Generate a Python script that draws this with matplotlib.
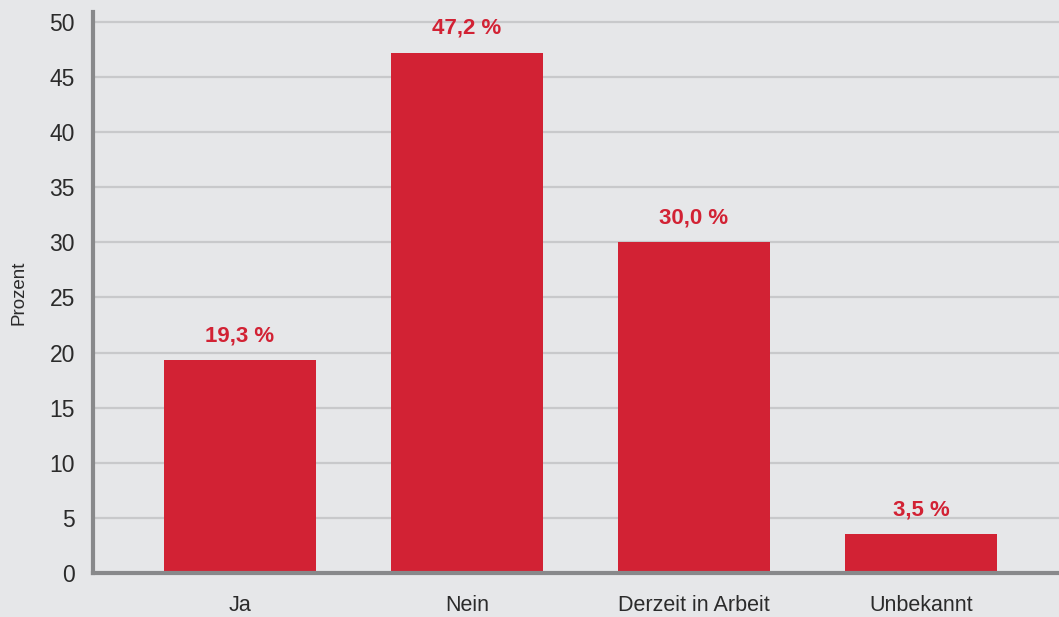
import matplotlib.pyplot as plt

categories = ["Ja", "Nein", "Derzeit in Arbeit", "Unbekannt"]
values = [19.3, 47.2, 30.0, 3.5]
labels = ["19,3 %", "47,2 %", "30,0 %", "3,5 %"]
yticks = [0, 5, 10, 15, 20, 25, 30, 35, 40, 45, 50]

bg = "#e6e7e9"
red = "#d22234"
grey = "#88898b"

plt.rcParams['font.family'] = ['Liberation Sans', 'DejaVu Sans']

fig = plt.figure(figsize=(10.59, 6.17), dpi=100, facecolor=bg)
ax = fig.add_axes([0.0878, 0.0713, 0.9122, 0.9094], facecolor=bg)

x = range(len(categories))
bars = ax.bar(x, values, width=0.67, color=red, zorder=3)

for b, lab in zip(bars, labels):
    ax.annotate(lab, (b.get_x() + b.get_width() / 2, b.get_height()),
                xytext=(0, 10), textcoords="offset points",
                ha="center", va="bottom", color=red,
                fontsize=16, fontweight="bold")

ax.set_xlim(-0.648, 3.608)
ax.set_ylim(0, 50.9)
ax.set_yticks(yticks)
ax.set_xticks(list(x))
ax.set_xticklabels(categories)
ax.tick_params(axis="both", length=0, colors="#2b2b2b")
ax.tick_params(axis="y", pad=13, labelsize=16.5)
ax.tick_params(axis="x", pad=16, labelsize=15.5)
ax.set_ylabel("Prozent", fontsize=13.5, color="#2b2b2b", labelpad=16)

ax.yaxis.grid(True, color="#c8c9cb", linewidth=1.6, zorder=0)
ax.set_axisbelow(True)

for s in ["top", "right"]:
    ax.spines[s].set_visible(False)
for s in ["left", "bottom"]:
    ax.spines[s].set_color(grey)
    ax.spines[s].set_linewidth(3)
    ax.spines[s].set_zorder(4)

fig.savefig("out.png", dpi=100, facecolor=bg)
